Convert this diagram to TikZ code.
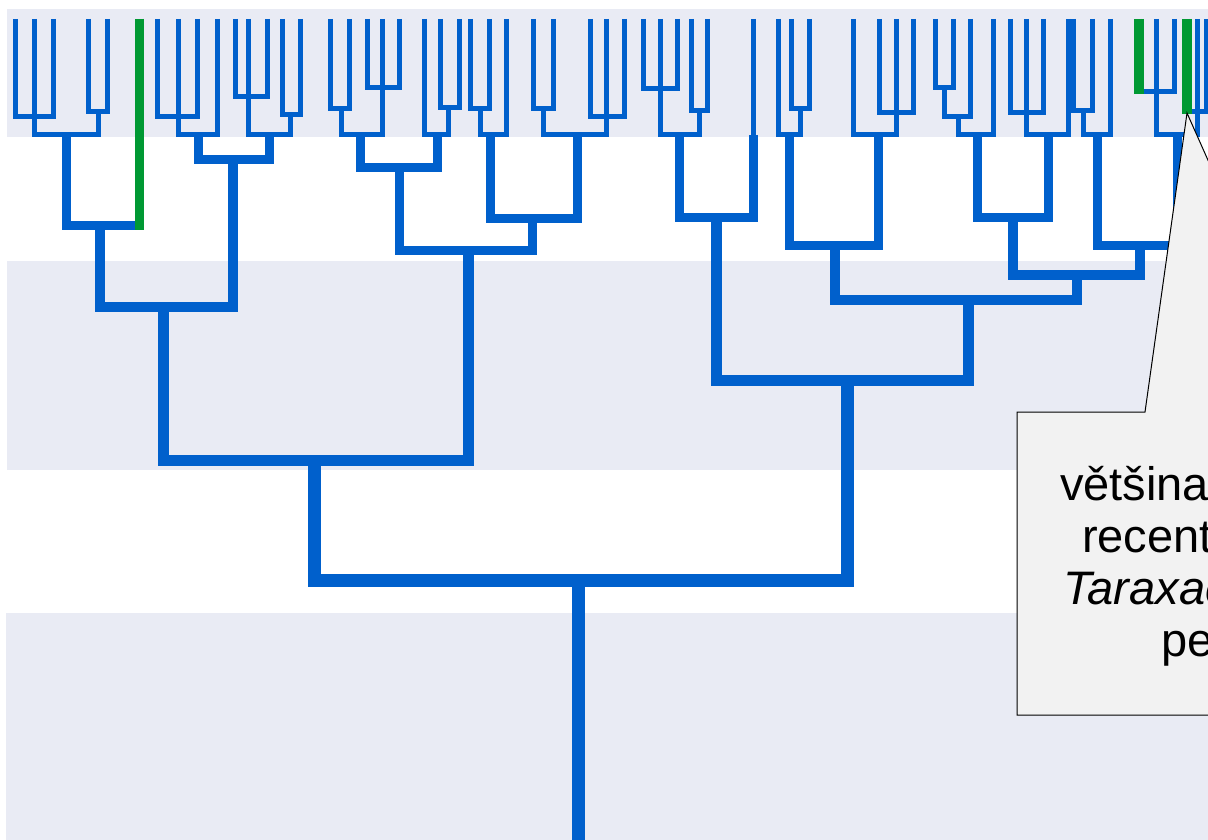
\documentclass[tikz,border=0pt]{standalone}
\usepackage{fontspec}
\setmainfont{Liberation Sans}
\definecolor{bandc}{RGB}{233,235,244}
\definecolor{tb}{RGB}{0,96,204}
\definecolor{tg}{RGB}{0,153,51}
\definecolor{callfill}{RGB}{242,242,242}
\newcommand\tip[2]{\coordinate (#1) at (#2,19);}
\begin{document}
\begin{tikzpicture}[x=1pt,y=-1pt,
  br/.style={draw=tb, line join=miter, line cap=butt},
  brA/.style={br, line width=5pt},
  brB/.style={br, line width=9pt},
  brC/.style={br, line width=10pt},
  brD/.style={br, line width=11pt},
  brE/.style={br, line width=13pt},
  grn/.style={draw=tg, line width=9pt, line cap=butt},
  txt/.style={font=\fontsize{47}{52}\selectfont, inner sep=0pt, anchor=base west, text=black},
  callout/.style={draw=black, line width=1pt, fill=callfill, line join=miter}]
\useasboundingbox (0,0) rectangle (1208,840);
\clip (0,0) rectangle (1208,840);
\fill[white] (0,0) rectangle (1208,840);
\fill[bandc] (7,9) rectangle (1208,137);
\fill[bandc] (7,261) rectangle (1208,470);
\fill[bandc] (6,613) rectangle (1208,840);

% ---------- coordinates: left clade
\tip{a1}{15}\tip{a2}{34}\tip{a3}{53}
\coordinate (A) at (34,117);
\tip{b1}{88}\tip{b2}{107}
\coordinate (B) at (98,112);
\coordinate (AB) at (66,135);
\tip{g1}{139}
\coordinate (ABg) at (100,225);
\tip{c1}{157}\tip{c2}{178}\tip{c3}{197}
\coordinate (C) at (178,117);
\tip{c4}{217}
\coordinate (C2) at (198,135);
\tip{d1}{235}\tip{d2}{248}\tip{d3}{267}
\coordinate (D) at (248,97);
\tip{e1}{282}\tip{e2}{300}
\coordinate (E) at (290,115);
\coordinate (DE) at (269,135);
\coordinate (CDE) at (233,160);
\coordinate (L1) at (163,307);
% ---------- middle clade
\tip{f1}{330}\tip{f2}{349}
\coordinate (F) at (341,109);
\tip{gg1}{367}\tip{gg2}{382}\tip{gg3}{399}
\coordinate (G) at (382,88);
\coordinate (FG) at (360,135);
\tip{h0}{424}\tip{h1}{440}\tip{h2}{459}
\coordinate (H) at (448,108);
\coordinate (H2) at (437,135);
\coordinate (FGH) at (399,168);
\tip{i1}{470}\tip{i2}{489}\tip{i3}{506}
\coordinate (I) at (480,109);
\coordinate (I2) at (490,135);
\tip{j1}{533}\tip{j2}{553}
\coordinate (J) at (543,109);
\tip{k1}{590}\tip{k2}{606}\tip{k3}{624}
\coordinate (K) at (606,117);
\coordinate (JK) at (577,135);
\coordinate (IJK) at (532,218);
\coordinate (M1) at (468,250);
\coordinate (LM) at (314,460);
% ---------- right clade
\tip{n1}{643}\tip{n2}{660}\tip{n3}{677}
\coordinate (N) at (660,89);
\tip{o1}{691}\tip{o2}{707}
\coordinate (O) at (699,111);
\coordinate (NO) at (679,135);
\tip{p1}{753}
\coordinate (P2) at (753,135);
\coordinate (NOP) at (716,217);
\tip{q1}{778}\tip{q2}{791}\tip{q3}{809}
\coordinate (Q) at (800,109);
\coordinate (Q2) at (789,135);
\tip{r1}{853}\tip{r2}{879}\tip{r3}{896}\tip{r4}{913}
\coordinate (R) at (896,113);
\coordinate (R2) at (878,135);
\coordinate (QR) at (835,245);
\tip{s1}{935}\tip{s2}{953}\tip{s3}{970}\tip{s4}{993}
\coordinate (S) at (944,88);
\coordinate (S2) at (958,117);
\coordinate (S3) at (977,135);
\tip{t1}{1010}\tip{t2}{1026}\tip{t3}{1043}\tip{t4}{1068}
\coordinate (T) at (1026,113);
\coordinate (T2) at (1048,135);
\coordinate (ST) at (1013,217);
\tip{u1}{1073}\tip{u2}{1092}\tip{u3}{1110}
\coordinate (U) at (1083,111);
\coordinate (U2) at (1097,135);
\tip{v1}{1139}\tip{v2}{1156}\tip{v3}{1174}
\coordinate (V) at (1156,92);
\tip{x1}{1187}\tip{x2}{1197}\tip{x3}{1206}
\coordinate (W) at (1197,112);
\coordinate (VW) at (1177,135);
\coordinate (UVW) at (1140,245);
\coordinate (STUVW) at (1077,275);
\coordinate (QRSTUVW) at (968,300);
\coordinate (R1) at (847,380);
\coordinate (Root) at (578,580);
\coordinate (Base) at (578,850);

% ---------- branches: left
\draw[brA] (a1) |- (A); \draw[brA] (a2) -- (A); \draw[brA] (a3) |- (A);
\draw[brA] (b1) |- (B); \draw[brA] (b2) |- (B);
\draw[brA] (A) |- (AB); \draw[brA] (B) |- (AB);
\draw[brB] (AB) |- (ABg); \draw[brB] (g1) |- (ABg);
\draw[brA] (c1) |- (C); \draw[brA] (c2) -- (C); \draw[brA] (c3) |- (C);
\draw[brA] (C) |- (C2); \draw[brA] (c4) |- (C2);
\draw[brA] (d1) |- (D); \draw[brA] (d2) -- (D); \draw[brA] (d3) |- (D);
\draw[brA] (e1) |- (E); \draw[brA] (e2) |- (E);
\draw[brA] (D) |- (DE); \draw[brA] (E) |- (DE);
\draw[brB] (C2) |- (CDE); \draw[brB] (DE) |- (CDE);
\draw[brC] (ABg) |- (L1); \draw[brC] (CDE) |- (L1);
% middle
\draw[brA] (f1) |- (F); \draw[brA] (f2) |- (F);
\draw[brA] (gg1) |- (G); \draw[brA] (gg2) -- (G); \draw[brA] (gg3) |- (G);
\draw[brA] (F) |- (FG); \draw[brA] (G) |- (FG);
\draw[brA] (h1) |- (H); \draw[brA] (h2) |- (H);
\draw[brA] (h0) |- (H2); \draw[brA] (H) |- (H2);
\draw[brB] (FG) |- (FGH); \draw[brB] (H2) |- (FGH);
\draw[brA] (i1) |- (I); \draw[brA] (i2) |- (I);
\draw[brA] (I) |- (I2); \draw[brA] (i3) |- (I2);
\draw[brA] (j1) |- (J); \draw[brA] (j2) |- (J);
\draw[brA] (k1) |- (K); \draw[brA] (k2) -- (K); \draw[brA] (k3) |- (K);
\draw[brA] (J) |- (JK); \draw[brA] (K) |- (JK);
\draw[brB] (I2) |- (IJK); \draw[brB] (JK) |- (IJK);
\draw[brB] (FGH) |- (M1); \draw[brB] (IJK) |- (M1);
\draw[brD] (L1) |- (LM); \draw[brD] (M1) |- (LM);
% right
\draw[brA] (n1) |- (N); \draw[brA] (n2) -- (N); \draw[brA] (n3) |- (N);
\draw[brA] (o1) |- (O); \draw[brA] (o2) |- (O);
\draw[brA] (N) |- (NO); \draw[brA] (O) |- (NO);
\draw[brA] (p1) -- (P2);
\draw[brB] (NO) |- (NOP); \draw[brB] (P2) |- (NOP);
\draw[brA] (q2) |- (Q); \draw[brA] (q3) |- (Q);
\draw[brA] (q1) |- (Q2); \draw[brA] (Q) |- (Q2);
\draw[brA] (r2) |- (R); \draw[brA] (r3) -- (R); \draw[brA] (r4) |- (R);
\draw[brA] (r1) |- (R2); \draw[brA] (R) |- (R2);
\draw[brB] (Q2) |- (QR); \draw[brB] (R2) |- (QR);
\draw[brA] (s1) |- (S); \draw[brA] (s2) |- (S);
\draw[brA] (S) |- (S2); \draw[brA] (s3) |- (S2);
\draw[brA] (S2) |- (S3); \draw[brA] (s4) |- (S3);
\draw[brA] (t1) |- (T); \draw[brA] (t2) -- (T); \draw[brA] (t3) |- (T);
\draw[brA] (T) |- (T2); \draw[brA] (t4) |- (T2);
\draw[brB] (S3) |- (ST); \draw[brB] (T2) |- (ST);
\draw[brA] (u1) |- (U); \draw[brA] (u2) |- (U);
\draw[brA] (U) |- (U2); \draw[brA] (u3) |- (U2);
\draw[brA] (v1) |- (V); \draw[brA] (v2) -- (V); \draw[brA] (v3) |- (V);
\draw[brA] (x1) |- (W); \draw[brA] (x2) -- (W); \draw[brA] (x3) |- (W);
\draw[brA] (V) |- (VW); \draw[brA] (W) |- (VW);
\draw[brB] (U2) |- (UVW); \draw[brB] (VW) |- (UVW);
\draw[brC] (ST) |- (STUVW); \draw[brC] (UVW) |- (STUVW);
\draw[brC] (QR) |- (QRSTUVW); \draw[brC] (STUVW) |- (QRSTUVW);
\draw[brD] (NOP) |- (R1); \draw[brD] (QRSTUVW) |- (R1);
% root
\draw[brE] (LM) |- (Root); \draw[brE] (R1) |- (Root);
\draw[brE] (Root) -- (Base);
% green lineages
\draw[grn] (g1) -- ([yshift=-4.5pt]g1 |- ABg);
\draw[grn, line width=10pt] (v1) -- ([yshift=-2.5pt]v1 |- V);
\draw[grn, line width=10pt] (x1) -- ([yshift=-2.5pt]x1 |- W);

% ---------- callout
\draw[callout] (1017,412) -- (1145,412) -- (1187,113) -- (1320,412) -- (1400,412) -- (1400,715) -- (1017,715) -- cycle;
\node[txt] (l1) at (1060,500) {většina};
\node[txt] (l2) at (1082,552) {recent};
\node[txt] (l3) at (1063,604) {\itshape Taraxac};
\node[txt] (l4) at (1161,656) {pe};
\end{tikzpicture}
\end{document}
